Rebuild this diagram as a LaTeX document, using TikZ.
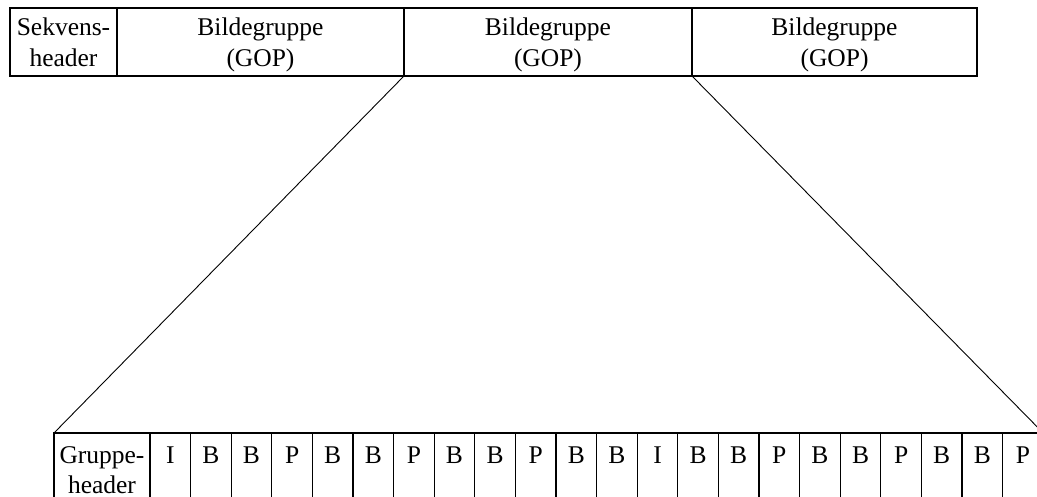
\documentclass[tikz,border=0pt]{standalone}
\usepackage{fontspec}
\setmainfont{Liberation Serif}
\begin{document}
\begin{tikzpicture}[x=1pt,y=-1pt,
  cell/.style={draw, line width=1.1pt, inner sep=0pt, outer sep=0pt, anchor=north west},
  frame/.style={line width=2.4pt},
  link/.style={line width=0.9pt},
  txt/.style={anchor=base, inner sep=0pt, font=\fontsize{25.5}{31}\selectfont}]
\useasboundingbox (0,0) rectangle (1037,497);
\clip (0,0) rectangle (1037,497);

% sequence layer
\node[cell, minimum width=107pt, minimum height=68pt] (seq)  at (10,8)  {};
\node[cell, minimum width=287pt, minimum height=68pt] (gop1) at (117,8) {};
\node[cell, minimum width=288pt, minimum height=68pt] (gop2) at (404,8) {};
\node[cell, minimum width=285pt, minimum height=68pt] (gop3) at (692,8) {};
\draw[frame] (seq.north west) rectangle (gop3.south east);

\node[txt] (seqA)  at ([yshift=-28pt]seq.north)  {Sekvens-};
\node[txt] (seqB)  at ([yshift=-59pt]seq.north)  {header};
\node[txt] (gop1A) at ([yshift=-28pt]gop1.north) {Bildegruppe};
\node[txt] (gop1B) at ([yshift=-59pt]gop1.north) {(GOP)};
\node[txt] (gop2A) at ([yshift=-28pt]gop2.north) {Bildegruppe};
\node[txt] (gop2B) at ([yshift=-59pt]gop2.north) {(GOP)};
\node[txt] (gop3A) at ([yshift=-28pt]gop3.north) {Bildegruppe};
\node[txt] (gop3B) at ([yshift=-59pt]gop3.north) {(GOP)};

% group-of-pictures layer
\node[cell, minimum width=96pt, minimum height=100pt] (gh) at (54,433) {};
\node[txt] (ghA) at ([yshift=-30pt]gh.north) {Gruppe-};
\node[txt] (ghB) at ([yshift=-60pt]gh.north) {header};
\foreach \t [count=\i from 0] in {I,B,B,P,B,B,P,B,B,P,B,B,I,B,B,P,B,B,P,B,B,P} {
  \node[cell, minimum width=40.6pt, minimum height=100pt] (f\i) at (150+40.6*\i,433) {};
  \node[txt] (l\i) at ([yshift=-30pt]f\i.north) {\t};
}
\draw[frame] (gh.south west) -- (gh.north west) -- (f21.north east);

% expansion of the middle group
\draw[link] (gop2.south west) -- (gh.north west);
\draw[link] (gop2.south east) -- (f21.north east);
\end{tikzpicture}
\end{document}
